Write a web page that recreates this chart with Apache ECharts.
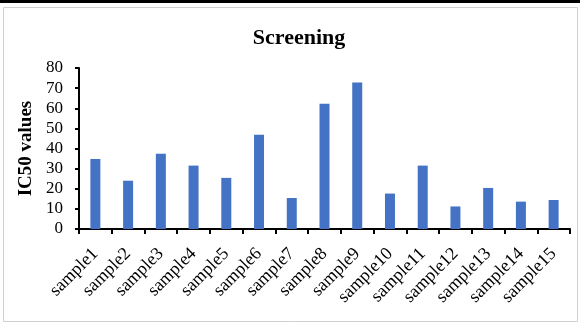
<!DOCTYPE html>
<html>
<head>
<meta charset="utf-8">
<script src="https://cdn.jsdelivr.net/npm/echarts@6/dist/echarts.min.js"></script>
<style>
  html, body { margin: 0; padding: 0; background: #fff; }
  #chart { width: 580px; height: 323px; }
</style>
</head>
<body>
<div id="chart"></div>
<script>
// IC50 screening results per sample
const categories = ['sample1', 'sample2', 'sample3', 'sample4', 'sample5', 'sample6', 'sample7', 'sample8',
  'sample9', 'sample10', 'sample11', 'sample12', 'sample13', 'sample14', 'sample15'];
const ic50Values = [34.8, 24, 37.4, 31.5, 25.4, 46.8, 15.4, 62.2, 72.8, 17.6, 31.5, 11.2, 20.4, 13.6, 14.4];
const yTicks = { min: 0, max: 80, interval: 10 };

const serif = '"Liberation Serif", "DejaVu Serif", serif';
const chart = echarts.init(document.getElementById('chart'), null, { renderer: 'canvas' });

chart.setOption({
  animation: false,
  backgroundColor: '#fff',
  title: {
    text: 'Screening',
    left: 294, top: 22, textAlign: 'center',
    textStyle: { fontFamily: serif, fontWeight: 'bold', fontSize: 22, color: '#000' }
  },
  graphic: [
    { type: 'rect', shape: { x: 0, y: 0, width: 580, height: 3 }, style: { fill: '#000' } },
    { type: 'rect', shape: { x: 3.5, y: 7.5, width: 574, height: 314 }, style: { fill: 'none', stroke: '#d0d0d0', lineWidth: 1 } }
  ],
  grid: { left: 79, right: 10, top: 68, bottom: 94 },
  xAxis: {
    type: 'category',
    data: categories,
    axisLine: { lineStyle: { color: '#000', width: 2 } },
    axisTick: { show: true, alignWithLabel: false, length: 5, lineStyle: { color: '#000', width: 2 } },
    axisLabel: {
      interval: 0, rotate: 45, margin: 22,
      fontFamily: serif, fontSize: 18, color: '#000'
    }
  },
  yAxis: {
    type: 'value',
    min: yTicks.min, max: yTicks.max, interval: yTicks.interval,
    name: 'IC50 values',
    nameLocation: 'middle',
    nameGap: 37,
    nameTextStyle: { fontFamily: serif, fontWeight: 'bold', fontSize: 19, color: '#000' },
    axisLine: { show: true, lineStyle: { color: '#000', width: 2 } },
    axisTick: { show: true, length: 4, lineStyle: { color: '#000', width: 2 } },
    splitLine: { show: false },
    axisLabel: { fontFamily: serif, fontSize: 17, color: '#000', margin: 16 }
  },
  series: [{
    type: 'bar',
    data: ic50Values,
    barWidth: 10,
    itemStyle: { color: '#4472C4' }
  }]
});
</script>
</body>
</html>
